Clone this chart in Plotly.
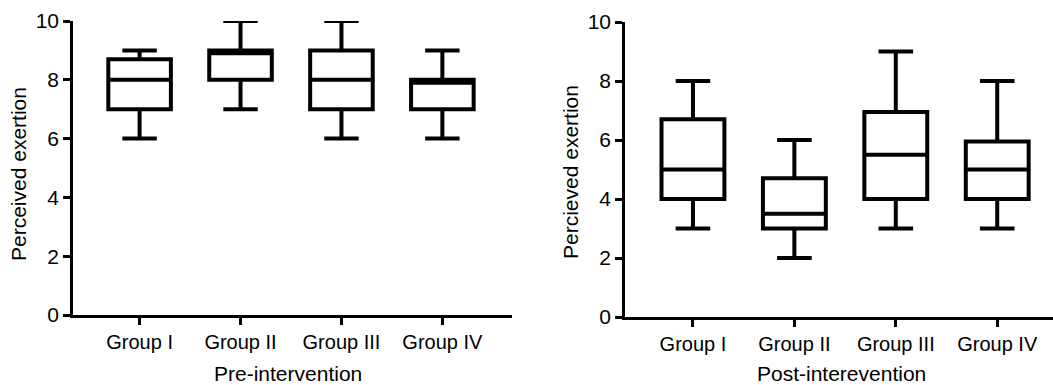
import plotly.graph_objects as go

groups = ["Group I", "Group II", "Group III", "Group IV"]

pre_min = [6, 7, 6, 6]
pre_q1 = [7, 8, 7, 7]
pre_median = [8, 8.9, 8, 7.9]
pre_q3 = [8.7, 9, 9, 8]
pre_max = [9, 10, 10, 9]

post_min = [3, 2, 3, 3]
post_q1 = [4, 3, 4, 4]
post_median = [5, 3.5, 5.5, 5]
post_q3 = [6.7, 4.7, 6.95, 5.95]
post_max = [8, 6, 9, 8]

W, H = 1053, 385
FONT = "Liberation Sans, Arial, sans-serif"

fig = go.Figure()

box_style = dict(
    line=dict(color="black", width=4),
    fillcolor="white",
    boxpoints=False,
    whiskerwidth=0.55,
    width=0.62,
    showlegend=False,
    hoverinfo="skip",
)

fig.add_trace(go.Box(x=groups, q1=pre_q1, median=pre_median, q3=pre_q3,
                     lowerfence=pre_min, upperfence=pre_max,
                     xaxis="x", yaxis="y", **box_style))
fig.add_trace(go.Box(x=groups, q1=post_q1, median=post_median, q3=post_q3,
                     lowerfence=post_min, upperfence=post_max,
                     xaxis="x2", yaxis="y2", **box_style))

axis_common = dict(
    showgrid=False, zeroline=False, automargin=False,
    showline=True, linecolor="black", linewidth=2.5,
    ticks="outside", ticklen=7, tickwidth=2.5, tickcolor="black",
)
xfont = dict(family=FONT, size=20, color="black")
yfont = dict(family=FONT, size=21, color="black")

def px_x(p):
    return p / W

def px_y(p):
    return (H - p) / H

fig.update_layout(
    width=W, height=H,
    margin=dict(l=0, r=0, t=0, b=0),
    paper_bgcolor="white", plot_bgcolor="white",
    font=dict(family=FONT, size=20, color="black"),
    xaxis=dict(domain=[px_x(73), px_x(512)], range=[-0.66, 3.69],
               anchor="y", type="category", tickfont=xfont, **axis_common),
    yaxis=dict(domain=[px_y(315), px_y(21)], range=[0, 10], dtick=2,
               anchor="x", tickfont=yfont, **axis_common),
    xaxis2=dict(domain=[px_x(625), 1.0], range=[-0.67, 3.55],
                anchor="y2", type="category", tickfont=xfont, **axis_common),
    yaxis2=dict(domain=[px_y(317), px_y(22)], range=[0, 10], dtick=2,
                anchor="x2", tickfont=yfont, **axis_common),
)

titles = [
    ("Pre-intervention", px_x(288), px_y(373), 0),
    ("Post-interevention", px_x(841), px_y(373), 0),
    ("Perceived exertion", px_x(18), px_y(174), -90),
    ("Percieved exertion", px_x(570), px_y(172), -90),
]
for text, x, y, ang in titles:
    fig.add_annotation(text=text, x=x, y=y, xref="paper", yref="paper",
                       xanchor="center", yanchor="middle", showarrow=False,
                       textangle=ang, font=dict(family=FONT, size=21, color="black"))

fig.write_html("out.html",
               config={"displayModeBar": False},
               post_script="document.body.style.margin='0px';"
                           "document.body.style.overflow='hidden';")
